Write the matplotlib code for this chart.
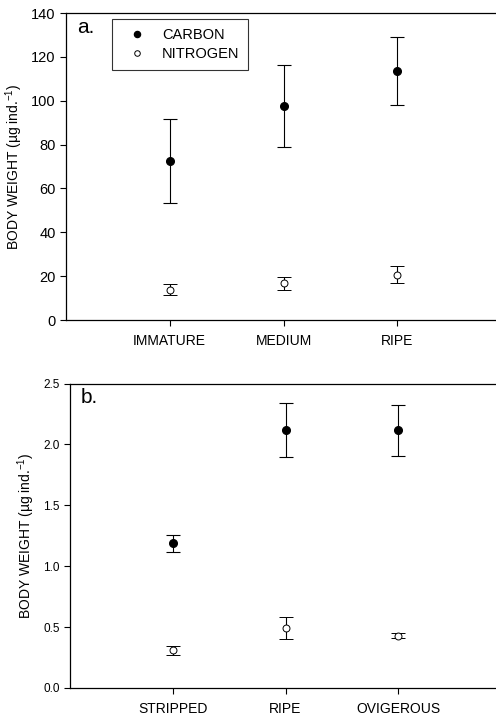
import matplotlib.pyplot as plt

plt.rcParams['font.family'] = ['Liberation Sans', 'DejaVu Sans']

# panel a: gonad stages
stages_a = ['IMMATURE', 'MEDIUM', 'RIPE']
carbon_a = [72.5, 97.6, 113.4]
carbon_a_err = [19.0, 18.5, 15.5]
nitrogen_a = [13.8, 16.7, 20.7]
nitrogen_a_err = [2.6, 2.9, 3.8]

# panel b: female stages
stages_b = ['STRIPPED', 'RIPE', 'OVIGEROUS']
carbon_b = [1.19, 2.12, 2.115]
carbon_b_err = [0.07, 0.22, 0.21]
nitrogen_b = [0.31, 0.49, 0.43]
nitrogen_b_err = [0.037, 0.09, 0.02]

ylabel = 'BODY WEIGHT (\u00b5g ind.$^{\\mathregular{-1}}$)'

fig = plt.figure(figsize=(4.96, 7.15), dpi=100)
ax_a = fig.add_axes([0.133, 0.5524, 0.875, 0.4294])
ax_b = fig.add_axes([0.141, 0.0378, 0.867, 0.4258])


def draw_panel(ax, cats, c, ce, n, ne, ylim, yticks, ticksize, letter, legend=False):
    x = list(range(1, len(cats) + 1))
    ax.errorbar(x, c, yerr=ce, fmt='o', color='black', mfc='black', ms=5.5,
                ecolor='black', elinewidth=0.8, capsize=5, capthick=0.8,
                label='CARBON', zorder=3)
    ax.errorbar(x, n, yerr=ne, fmt='o', color='black', mfc='white', mew=0.7,
                ms=5, ecolor='black', elinewidth=0.8, capsize=5, capthick=0.8,
                label='NITROGEN', zorder=3)
    ax.set_xlim(0.09, 3.9)
    ax.set_ylim(*ylim)
    ax.set_yticks(yticks)
    ax.set_xticks(x)
    ax.set_xticklabels(cats, fontsize=10)
    ax.tick_params(axis='y', labelsize=ticksize, direction='out', length=4, width=0.8)
    ax.tick_params(axis='x', direction='out', length=4, width=0.8, pad=6)
    ax.spines['right'].set_visible(False)
    for s in ['left', 'bottom', 'top']:
        ax.spines[s].set_linewidth(0.9)
    ax.set_ylabel(ylabel, fontsize=10)
    ax.text(0.025, 0.985, letter, transform=ax.transAxes, fontsize=15,
            ha='left', va='top')
    if legend:
        h, l = ax.get_legend_handles_labels()
        hs = [hh[0] for hh in h]
        leg = ax.legend(hs, l, loc='upper left', bbox_to_anchor=(0.107, 0.98),
                        borderaxespad=0, fontsize=10.5, frameon=True,
                        fancybox=False, edgecolor='black', borderpad=0.6,
                        handlelength=2.2, handletextpad=0.6,
                        markerscale=0.8, labelspacing=0.35)
        leg.get_frame().set_linewidth(0.8)


draw_panel(ax_a, stages_a, carbon_a, carbon_a_err, nitrogen_a, nitrogen_a_err,
           (0, 140), [0, 20, 40, 60, 80, 100, 120, 140], 10.5, 'a.', legend=True)
draw_panel(ax_b, stages_b, carbon_b, carbon_b_err, nitrogen_b, nitrogen_b_err,
           (0, 2.5), [0.0, 0.5, 1.0, 1.5, 2.0, 2.5], 8.5, 'b.')
ax_b.set_yticklabels(['0.0', '0.5', '1.0', '1.5', '2.0', '2.5'])

fig.savefig('out.png', dpi=100)
